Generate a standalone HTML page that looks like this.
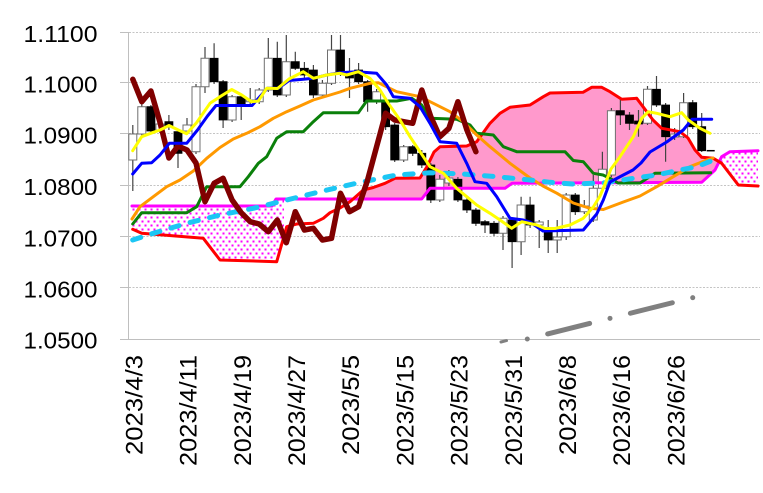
<!DOCTYPE html>
<html><head><meta charset="utf-8"><style>
html,body{margin:0;padding:0;background:#fff;}
svg{display:block;}
text{font-family:"Liberation Sans",Arial,sans-serif;fill:#000;}
</style></head><body>
<svg width="763" height="493" viewBox="0 0 763 493" xmlns="http://www.w3.org/2000/svg">
<defs>
<pattern id="dots" width="6" height="8" patternUnits="userSpaceOnUse">
<rect x="0" y="0" width="6" height="8" fill="#fff"/>
<rect x="0.5" y="0.5" width="2" height="2" fill="#ff00ff"/>
<rect x="3.5" y="4.5" width="2" height="2" fill="#ff00ff"/>
</pattern>
</defs>
<rect width="763" height="493" fill="#fff"/>
<!-- gridlines -->
<g stroke="#c4c4c4" stroke-width="1" stroke-dasharray="2 1.5">
<line x1="129" y1="32.5" x2="760" y2="32.5"/>
<line x1="129" y1="82.5" x2="760" y2="82.5"/>
<line x1="129" y1="133.5" x2="760" y2="133.5"/>
<line x1="129" y1="185.5" x2="760" y2="185.5"/>
<line x1="129" y1="236.5" x2="760" y2="236.5"/>
<line x1="129" y1="287.5" x2="760" y2="287.5"/>
</g>
<g stroke="#bfbfbf" stroke-width="1">
<line x1="120" y1="32.5" x2="128.5" y2="32.5"/>
<line x1="120" y1="82.5" x2="128.5" y2="82.5"/>
<line x1="120" y1="133.5" x2="128.5" y2="133.5"/>
<line x1="120" y1="185.5" x2="128.5" y2="185.5"/>
<line x1="120" y1="236.5" x2="128.5" y2="236.5"/>
<line x1="120" y1="287.5" x2="128.5" y2="287.5"/>
<line x1="128.5" y1="32" x2="128.5" y2="340"/>
<line x1="120" y1="339.5" x2="760" y2="339.5"/>
</g>
<!-- cloud fills -->
<polygon fill="url(#dots)" points="132,206 272,206 276,199 284,199 284,235 276.7,261.7 220,260 203.3,238.3 141.7,233.3 132.7,229.3"/>
<polygon fill="#ff99cc" points="353.1,199 363.3,190 373.3,187.5 385,183.3 395,178.3 420,178 427,166.7 434,152 440,146.7 466.7,146 476.7,141.7 490,123.3 500,113.3 510,107.3 530,105 543.3,96.7 550,93 583,92.3 591.7,87.3 601.7,87.3 610,91.7 621.7,99.3 636.7,98.3 643,106.7 653,120 661.7,128.3 680,131.7 688,138 695,150 701.7,157.3 713.3,158.3 719.2,161.8 715,170 701.7,182.3 512,183.3 505,188.3 430,188.3 421.7,199"/>
<polygon fill="url(#dots)" points="719.2,161.8 721.7,156.7 730,151.7 758,150.7 758,186 738.3,185 721.7,163.3"/>
<!-- wicks -->
<path fill="none" stroke="#444" stroke-width="1.2" d="M132.8 125V191 M141.8 104V136 M150.9 105V134 M159.9 119V133 M168.9 115V130 M178 129V168 M187 118V134 M196 84V154 M205 47V93 M214.1 43.3V84 M223.1 80V128 M232.1 95V122 M241.2 95V120 M250.2 88V104 M259.2 88V104 M268.3 38V92 M277.3 41.7V97 M286.3 35V97 M295.3 51.7V70 M304.4 62V78 M313.4 65V98 M322.4 80V98 M331.5 35V85 M340.5 35V76 M349.5 58V98 M358.6 63V84 M367.6 80V111.7 M376.6 89V104 M385.6 98V130 M394.7 123V162 M403.7 145V162 M412.7 145V156 M421.8 150V168 M430.8 163V203 M439.8 175V202 M448.9 170V186 M457.9 177V202 M466.9 198V213 M475.9 208V226 M485 220V233 M494 221V236 M503 216V250 M512.1 218V268 M521.1 196.7V255 M530.1 196.7V228 M539.2 220V248 M548.2 220V253 M557.2 220V253 M566.2 193V240 M575.3 193V215 M584.3 200V214 M593.3 175V222 M602.4 151.7V190 M611.4 108V177 M620.4 98V125 M629.5 112V130 M638.5 110V136.7 M647.5 86V125 M656.5 76V107 M665.6 103V161.7 M674.6 128V140 M683.6 93V138 M692.7 100V129 M701.7 113V152"/>
<!-- white bodies -->
<path fill="#fff" stroke="#707070" stroke-width="1" d="M128.8 134h8v26h-8z M137.8 106.7h8v27.3h-8z M155.9 124h8v6h-8z M183 125h8v6h-8z M192 86.7h8v65h-8z M201 58.3h8v28.4h-8z M228.1 96.7h8v23.3h-8z M246.2 100h8v1.7h-8z M255.2 90h8v11.7h-8z M264.3 58.3h8v31.7h-8z M282.3 61.7h8v33.3h-8z M318.4 83.3h8v11.7h-8z M327.5 50h8v33.3h-8z M372.6 91.7h8v10h-8z M399.7 146.7h8v13.3h-8z M435.8 179.3h8v20.7h-8z M444.9 178h8v5h-8z M499 218.3h8v15h-8z M517.1 205h8v36.7h-8z M535.2 222h8v3h-8z M553.2 237h8v3h-8z M562.2 195h8v41.7h-8z M580.3 206h8v5.7h-8z M589.3 188.3h8v31.7h-8z M598.4 169.3h8v19h-8z M607.4 110.7h8v64.3h-8z M643.5 89.3h8v34h-8z M670.6 134h8v3h-8z M679.6 102.7h8v34h-8z"/>
<!-- black bodies -->
<path fill="#000" stroke="#000" stroke-width="0.8" d="M146.9 106.7h8v24.3h-8z M164.9 121.7h8v5h-8z M174 131.7h8v21.6h-8z M210.1 58.3h8v23.4h-8z M219.1 81.7h8v38.3h-8z M237.2 96.7h8v8.3h-8z M273.3 58.3h8v36.7h-8z M291.3 61.7h8v6.6h-8z M300.4 68.3h8v6.7h-8z M309.4 70h8v25h-8z M336.5 50h8v23.3h-8z M345.5 73.3h8v4.7h-8z M354.6 70h8v11.7h-8z M363.6 81.7h8v20h-8z M381.6 100h8v26.7h-8z M390.7 125h8v35h-8z M408.7 146.7h8v6.6h-8z M417.8 153.3h8v11.7h-8z M426.8 165h8v35h-8z M453.9 179.3h8v20.7h-8z M462.9 200h8v10h-8z M471.9 210h8v13.3h-8z M481 221.7h8v3.3h-8z M490 223.3h8v10h-8z M508.1 220h8v21.7h-8z M526.1 205h8v20h-8z M544.2 231.7h8v8.3h-8z M571.3 195h8v16.7h-8z M616.4 110.7h8v4.3h-8z M625.5 115h8v8.3h-8z M634.5 121h8v3h-8z M652.5 89.3h8v15.7h-8z M661.6 105h8v31.7h-8z M688.7 102.7h8v24h-8z M697.7 126.7h8v24h-8z"/>
<line x1="706.7" y1="150.7" x2="714.7" y2="150.7" stroke="#000" stroke-width="1.5"/>
<!-- lines -->
<g fill="none" stroke-linejoin="round" stroke-linecap="round">
<polyline stroke="#ff00ff" stroke-width="3" points="132,206 272,206 276,199 421.7,199 430,188.3 505,188.3 512,183.3 701.7,182.3 715,170 721.7,156.7 730,151.7 758,150.7"/>
<polyline stroke="#ff0000" stroke-width="3" points="132.7,229.3 141.7,233.3 203.3,238.3 220,260 276.7,261.7 286.7,226.7 296.7,224 313.3,223.3 323.3,218.3 330,212.7 340,208 350,201.7 363.3,190 373.3,187.5 385,183.3 395,178.3 420,178 427,166.7 434,152 440,146.7 466.7,146 476.7,141.7 490,123.3 500,113.3 510,107.3 530,105 543.3,96.7 550,93 583,92.3 591.7,87.3 601.7,87.3 610,91.7 621.7,99.3 636.7,98.3 643,106.7 653,120 661.7,128.3 680,131.7 688,138 695,150 701.7,157.3 713.3,158.3 721.7,163.3 738.3,185 758,186"/>
<polyline stroke="#0a800a" stroke-width="3" points="132.7,224 141.7,212.7 186.7,212.7 196.7,206.7 206.7,186.7 240,186.7 248.3,176.7 258.3,163.3 266.7,156.7 276.7,138.3 286.7,131.7 303.3,131.7 313.3,121.7 323.3,112.7 358.3,112.7 366.7,101 396.7,101 411.7,98.3 421.7,105 430,118.3 456.7,119.3 470,125 476.7,133.3 493.3,135 503.3,146.7 516.7,151.7 565,151.7 573.3,160.5 583.3,161.7 593.3,173.3 603,175 610,178.3 618,183 640,183 655,173.3 710.7,172.7"/>
<polyline stroke="#ff9900" stroke-width="3" points="132,219 140,206.7 153.3,196.7 166.7,186.7 180,180 193.3,171 206.7,158.3 220,147.5 233.3,139 246.7,133.3 260,126.7 273.3,118.3 286.7,111.7 300,106 313.3,100 326.7,96 340,92 350,88.3 370,83.3 378.3,82.7 396.7,91.7 420,96.7 433.3,103.3 450,111.7 463.3,121.7 476.7,135 490,146.7 510,163.3 530,178 543,186 557,193.3 573.3,203 590,208.3 603.3,209.5 623.3,202 640,196 656.7,186.7 673.3,176.7 690,166.7 706.7,160 713,158"/>
<polyline stroke="#1cc6f4" stroke-width="5" stroke-dasharray="8.5 11.5" points="132.7,240 153.3,233.3 186.7,223.3 220,215 253.3,208.3 286.7,200 320,191.7 340,187 363.3,181.7 396.7,175 430,172.7 463.3,174 496.7,176.7 530,180 550,182.3 573.3,184 606.7,182.7 626.7,179.3 656.7,175 680,170 696.7,166.7 711,161"/>
<polyline stroke="#800000" stroke-width="5.5" points="132.8,79.3 141.8,101.7 150.9,91 159.9,122 168.9,158 178,146 187,150 196,163 205,201.7 214.1,183.3 223.1,178.3 232.1,200 241.2,212.7 250.2,221.7 259.2,224 268.3,231.7 277.3,220 286.3,242.7 295.3,211.7 304.4,230 313.4,228.3 322.4,240 331.5,238.3 340.5,193.3 349.5,211.7 358.6,206.7 367.6,180 376.6,146.7 385.6,113.3 394.7,120 403.7,121.7 412.7,123.3 421.8,90 430.8,116.7 439.8,136.7 448.9,128.3 457.9,101.7 466.9,130 475.9,151.7"/>
<polyline stroke="#0000ff" stroke-width="3" points="132.7,174 141.7,163.3 151.7,162.7 160,155 169.3,143.3 186.7,143.3 197.5,130 207.5,116 216,105.5 252,105.5 260,96.5 267.5,88.3 278.3,88.3 289,80.5 303.3,79.3 313.3,78.3 326.7,75 340,72.7 356.7,71.7 376.7,73.3 386.7,85 393.3,96.7 410,98.3 420,106.7 430,123.3 440,141.7 456.7,143.3 466.7,163.3 475,181.7 486.7,183.3 496.7,196.7 510,218.3 523.3,220 530,222 543,231 583.3,230 596.7,214 603.3,200 610,182 623.3,175 633,170 641,163 650,152 666.7,142 683.3,130 692,119.3 711.7,119.3"/>
<polyline stroke="#ffff00" stroke-width="3" points="132.7,150.7 141.7,136.7 150.7,133.3 160,130 169,125.5 178.3,130 186.7,133.7 196.7,122.5 210,103.3 220,96.7 231.7,89.5 241.7,95 251.7,101.7 258.3,101 266.7,88.3 277.5,88.5 289,79 303.3,71.7 313.3,78.3 326.7,75 340,73.3 346.7,75 358.3,71.7 370,78.3 380,90 388.3,103.3 400,120 410,136.7 420,151.7 430,166.7 443.3,173.3 456.7,188.3 466.7,196.7 476.7,205 490,213.3 500,220 511.7,228.3 521.7,221.7 536.7,225 545,228.5 555,228.5 570,225 583.3,218.3 593.3,207 600,196 605,184 611,169 620,156.7 633.3,136.7 641.7,118.3 648.3,111.7 656.7,113.3 670,116.7 681.7,112.7 688.3,120 700,128.3 710,133.3"/>
<line x1="527.3" y1="339" x2="695" y2="297.1" stroke="#808080" stroke-width="5" stroke-dasharray="0.01 21 43.24 21"/>
<line x1="501" y1="342" x2="506.5" y2="340.6" stroke="#808080" stroke-width="3"/>
</g>
<!-- y labels -->
<g font-size="23" text-anchor="end">
<text x="97.5" y="42" textLength="74" lengthAdjust="spacingAndGlyphs">1.1100</text>
<text x="97.5" y="92.7" textLength="74" lengthAdjust="spacingAndGlyphs">1.1000</text>
<text x="97.5" y="143.3" textLength="74" lengthAdjust="spacingAndGlyphs">1.0900</text>
<text x="97.5" y="195" textLength="74" lengthAdjust="spacingAndGlyphs">1.0800</text>
<text x="97.5" y="246.5" textLength="74" lengthAdjust="spacingAndGlyphs">1.0700</text>
<text x="97.5" y="297.3" textLength="74" lengthAdjust="spacingAndGlyphs">1.0600</text>
<text x="97.5" y="348.5" textLength="74" lengthAdjust="spacingAndGlyphs">1.0500</text>
</g>
<!-- x labels -->
<g font-size="24" text-anchor="end">
<text transform="translate(142.5,355) rotate(-90)" textLength="100" lengthAdjust="spacingAndGlyphs">2023/4/3</text>
<text transform="translate(196.7,355) rotate(-90)" textLength="111" lengthAdjust="spacingAndGlyphs">2023/4/11</text>
<text transform="translate(250.9,355) rotate(-90)" textLength="111" lengthAdjust="spacingAndGlyphs">2023/4/19</text>
<text transform="translate(305,355) rotate(-90)" textLength="111" lengthAdjust="spacingAndGlyphs">2023/4/27</text>
<text transform="translate(359.2,355) rotate(-90)" textLength="100" lengthAdjust="spacingAndGlyphs">2023/5/5</text>
<text transform="translate(413.4,355) rotate(-90)" textLength="111" lengthAdjust="spacingAndGlyphs">2023/5/15</text>
<text transform="translate(467.6,355) rotate(-90)" textLength="111" lengthAdjust="spacingAndGlyphs">2023/5/23</text>
<text transform="translate(521.8,355) rotate(-90)" textLength="111" lengthAdjust="spacingAndGlyphs">2023/5/31</text>
<text transform="translate(575.9,355) rotate(-90)" textLength="100" lengthAdjust="spacingAndGlyphs">2023/6/8</text>
<text transform="translate(630.2,355) rotate(-90)" textLength="111" lengthAdjust="spacingAndGlyphs">2023/6/16</text>
<text transform="translate(684.3,355) rotate(-90)" textLength="111" lengthAdjust="spacingAndGlyphs">2023/6/26</text>
</g>
</svg>
</body></html>
